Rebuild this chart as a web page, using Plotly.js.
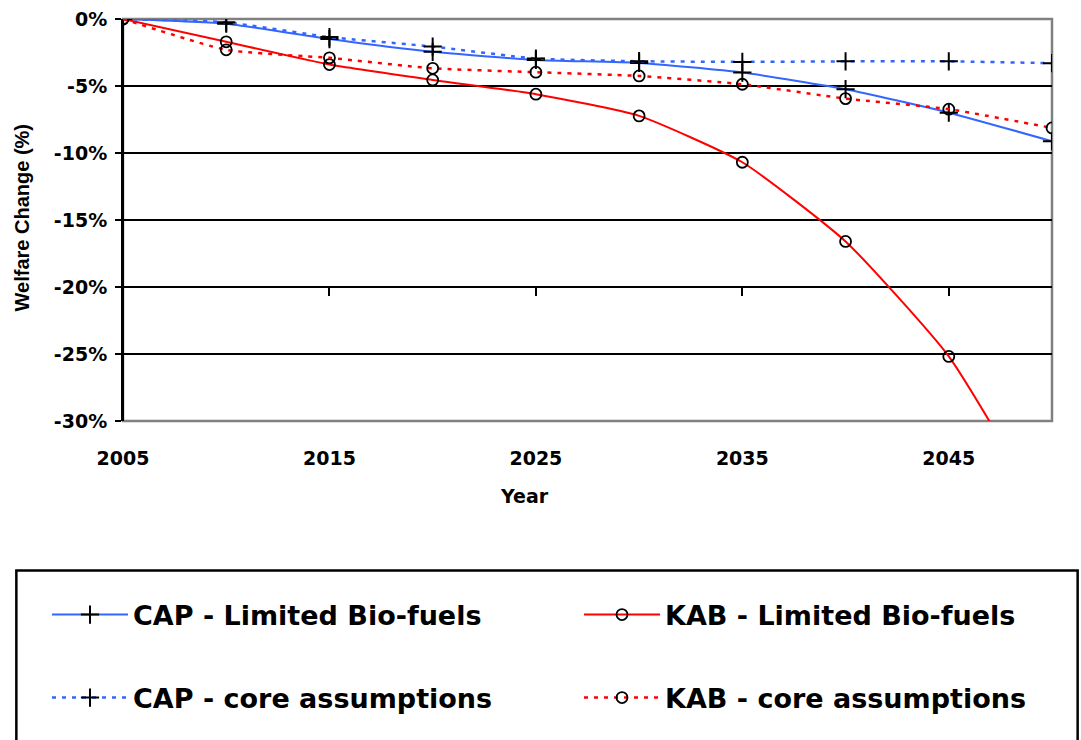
<!DOCTYPE html>
<html>
<head>
<meta charset="utf-8">
<script src="https://cdn.plot.ly/plotly-3.0.1.min.js"></script>
<style>
  body { margin: 0; background: #fff; }
  #chart { width: 1081px; height: 740px; }
</style>
</head>
<body>
<div id="chart"></div>
<script>
// welfare change (%) by year
var years = [2005, 2010, 2015, 2020, 2025, 2030, 2035, 2040, 2045, 2050];
var capLimited = [0, -0.35, -1.5, -2.45, -3.06, -3.28, -4.0, -5.24, -6.99, -9.12];
var kabLimited = [0, -1.7, -3.4, -4.55, -5.61, -7.23, -10.69, -16.6, -25.18, -38];
var capCore = [0, -0.25, -1.35, -2.06, -2.95, -3.15, -3.2, -3.16, -3.16, -3.3];
var kabCore = [0, -2.3, -2.9, -3.68, -3.97, -4.25, -4.87, -5.94, -6.73, -8.13];
var seriesNames = ['CAP - Limited Bio-fuels', 'KAB - Limited Bio-fuels', 'CAP - core assumptions', 'KAB - core assumptions'];
var xTickYears = [2005, 2015, 2025, 2035, 2045];
var yTickVals = [0, -5, -10, -15, -20, -25, -30];

var wide = 'DejaVu Sans, Verdana, sans-serif';
var narrow = 'Liberation Sans, Arial, sans-serif';
var blue = '#3366FF';
var red = '#FF0000';

var plusMarker = {symbol: 'cross-thin-open', size: 13, color: '#000', line: {color: '#000', width: 2}};
var circleMarker = {symbol: 'circle-open', size: 11, color: '#000', line: {color: '#000', width: 1.8}};

var data = [{
    x: years, y: capLimited, name: seriesNames[0], type: 'scatter', mode: 'lines+markers',
    line: {color: blue, width: 2, shape: 'spline', smoothing: 0.5},
    marker: plusMarker, legend: 'legend'
}, {
    x: years, y: kabLimited, name: seriesNames[1], type: 'scatter', mode: 'lines+markers',
    line: {color: red, width: 2, shape: 'spline', smoothing: 0.5},
    marker: circleMarker, legend: 'legend2'
}, {
    x: years, y: capCore, name: seriesNames[2], type: 'scatter', mode: 'lines+markers',
    line: {color: blue, width: 2.5, dash: '4px,6px', shape: 'spline', smoothing: 0.5},
    marker: plusMarker, legend: 'legend3'
}, {
    x: years, y: kabCore, name: seriesNames[3], type: 'scatter', mode: 'lines+markers',
    line: {color: red, width: 2.5, dash: '4px,6px', shape: 'spline', smoothing: 0.5},
    marker: circleMarker, legend: 'legend4'
}, {
    // empty trace so the second x axis (ticks at -20%) gets drawn
    x: [], y: [], xaxis: 'x2', yaxis: 'y', showlegend: false, hoverinfo: 'skip'
}];

function legendAt(px, py) {
    return {
        orientation: 'h',
        xref: 'container', yref: 'container',
        xanchor: 'left', yanchor: 'middle',
        x: (px - 5) / 1081,
        y: 1 - py / 740,
        itemwidth: 76,
        bgcolor: 'rgba(0,0,0,0)',
        borderwidth: 0,
        font: {family: wide, size: 27, color: '#000', weight: 'bold'}
    };
}

var layout = {
    width: 1081,
    height: 740,
    margin: {l: 123, r: 29, t: 19, b: 319},
    paper_bgcolor: '#fff',
    plot_bgcolor: '#fff',
    showlegend: true,
    legend: legendAt(52, 615),
    legend2: legendAt(584, 615),
    legend3: legendAt(52, 698),
    legend4: legendAt(584, 698),
    xaxis: {
        range: [2005, 2050],
        tickvals: xTickYears,
        ticktext: xTickYears.map(String),
        ticks: '',
        showgrid: false,
        zeroline: false,
        showline: false,
        ticklabelstandoff: 24,
        tickfont: {family: wide, size: 19, color: '#000', weight: 'bold'}
    },
    xaxis2: {
        range: [2005, 2050],
        overlaying: 'x',
        anchor: 'free',
        position: 1 / 3,
        tickvals: xTickYears,
        ticks: 'outside',
        ticklen: 8,
        tickwidth: 2,
        tickcolor: '#000',
        showticklabels: false,
        showgrid: false,
        zeroline: false,
        showline: false
    },
    yaxis: {
        range: [-30, 0],
        tickvals: yTickVals,
        ticktext: yTickVals.map(function (v) { return v + '%'; }),
        ticks: 'outside',
        ticklen: 6,
        tickwidth: 2,
        tickcolor: '#000',
        showgrid: true,
        gridcolor: '#000',
        gridwidth: 2,
        zeroline: false,
        showline: true,
        linecolor: '#000',
        linewidth: 2,
        ticklabelstandoff: 4,
        tickfont: {family: wide, size: 19, color: '#000', weight: 'bold'}
    },
    annotations: [{
        text: 'Year', xref: 'paper', yref: 'paper',
        x: (525 - 123) / 929.6, y: (421.3 - 496.5) / 402.3,
        xanchor: 'center', yanchor: 'middle', showarrow: false,
        font: {family: wide, size: 19, color: '#000', weight: 'bold'}
    }, {
        text: 'Welfare Change (%)', xref: 'paper', yref: 'paper',
        x: (22 - 123) / 929.6, y: (421.3 - 218.5) / 402.3,
        xanchor: 'center', yanchor: 'middle', showarrow: false, textangle: -90,
        font: {family: narrow, size: 20, color: '#000', weight: 'bold'}
    }],
    shapes: [{
        // gray plot-area border
        type: 'rect', xref: 'paper', yref: 'paper', x0: 0, x1: 1, y0: 0, y1: 1,
        line: {color: '#808080', width: 2.5}, layer: 'between'
    }, {
        // legend frame
        type: 'rect', xref: 'paper', yref: 'paper',
        x0: -0.1148, x1: 1.0276, y0: -0.372, y1: -0.81,
        line: {color: '#000', width: 2.5}, layer: 'above'
    }, {
        // black left axis line on top of border
        type: 'line', xref: 'paper', yref: 'paper', x0: 0, x1: 0, y0: 0, y1: 1,
        line: {color: '#000', width: 2}, layer: 'between'
    }]
};

Plotly.newPlot('chart', data, layout, {staticPlot: true});
</script>
</body>
</html>
